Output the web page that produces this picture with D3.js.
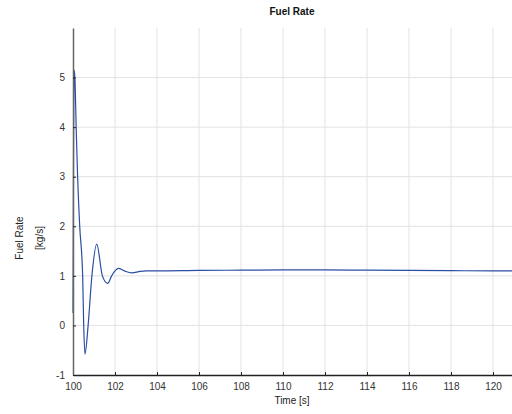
<!DOCTYPE html>
<html>
<head>
<meta charset="utf-8">
<script src="https://cdn.jsdelivr.net/npm/d3@7"></script>
<style>
  body { margin: 0; background: #fff; }
  svg { font-family: "Liberation Sans", Arial, sans-serif; }
</style>
</head>
<body>
<div id="chart"></div>
<script>
// time [s] and fuel rate [kg/s]
const times = [100.0, 100.03, 100.06, 100.1, 100.15, 100.22, 100.32, 100.46, 100.51, 100.57,
  100.72, 100.9, 101.13, 101.4, 101.65, 101.84, 102.16, 102.45, 102.8, 103.2, 103.5,
  104, 106, 108, 110, 112, 114, 116, 118, 120, 121];
const fuel = [0.25, 4.0, 5.15, 4.9, 4.0, 3.0, 2.0, 1.0, 0.0, -0.58,
  0.0, 1.0, 1.64, 1.0, 0.85, 1.0, 1.15, 1.1, 1.06, 1.09, 1.1,
  1.1, 1.11, 1.115, 1.12, 1.12, 1.115, 1.11, 1.105, 1.1, 1.1];
const xTicks = [100, 102, 104, 106, 108, 110, 112, 114, 116, 118, 120];
const yTicks = [-1, 0, 1, 2, 3, 4, 5];

const width = 512, height = 414;
const m = { left: 73, right: -2, top: 28, bottom: 39 };

const svg = d3.select("#chart").append("svg")
  .attr("width", width).attr("height", height);

const x = d3.scaleLinear().domain([100, 121]).range([m.left, width - m.right]);
const y = d3.scaleLinear().domain([-1, 6]).range([height - m.bottom, m.top]);

// grid
svg.append("g").selectAll("line").data(xTicks.filter(d => d > 100)).join("line")
  .attr("x1", d => x(d)).attr("x2", d => x(d))
  .attr("y1", y(-1)).attr("y2", y(6))
  .attr("stroke", "#e3e3e3").attr("stroke-width", 1);
svg.append("g").selectAll("line").data(yTicks.filter(d => d > -1)).join("line")
  .attr("x1", x(100)).attr("x2", width)
  .attr("y1", d => y(d)).attr("y2", d => y(d))
  .attr("stroke", "#e3e3e3").attr("stroke-width", 1);

// data line
const pts = times.map((t, i) => [t, fuel[i]]);
svg.append("path").datum(pts)
  .attr("fill", "none").attr("stroke", "#2a4ea3").attr("stroke-width", 1.2)
  .attr("d", d3.line().x(d => x(d[0])).y(d => y(d[1])).curve(d3.curveMonotoneX));

// axes
const xAxis = svg.append("g").attr("transform", `translate(0,${y(-1)})`)
  .call(d3.axisBottom(x).tickValues(xTicks).tickSizeInner(-3).tickSizeOuter(0).tickPadding(8));
const yAxis = svg.append("g").attr("transform", `translate(${x(100)},0)`)
  .call(d3.axisLeft(y).tickValues(yTicks).tickFormat(d => String(d))
    .tickSizeInner(-3).tickSizeOuter(0).tickPadding(8));

xAxis.select(".domain").attr("stroke", "#222").attr("stroke-width", 1.3);
yAxis.select(".domain").attr("stroke", "#666").attr("stroke-width", 1.5);
svg.selectAll(".tick line").attr("stroke", "#222");
svg.selectAll(".tick text").attr("font-size", 10).attr("fill", "#333")
  .attr("font-family", "Liberation Sans, Arial, sans-serif");

// labels
svg.append("text").attr("x", 292).attr("y", 15).attr("text-anchor", "middle")
  .attr("font-size", 10).attr("font-weight", "bold").attr("fill", "#111").text("Fuel Rate");
svg.append("text").attr("x", 292).attr("y", 404).attr("text-anchor", "middle")
  .attr("font-size", 10).attr("fill", "#222").text("Time [s]");
const yl = svg.append("g").attr("transform", "translate(19,238) rotate(-90)");
yl.append("text").attr("text-anchor", "middle").attr("dy", "0.35em")
  .attr("font-size", 10).attr("fill", "#222").text("Fuel Rate");
yl.append("text").attr("text-anchor", "middle").attr("y", 20).attr("dy", "0.35em")
  .attr("font-size", 10).attr("fill", "#222").text("[kg/s]");
</script>
</body>
</html>
